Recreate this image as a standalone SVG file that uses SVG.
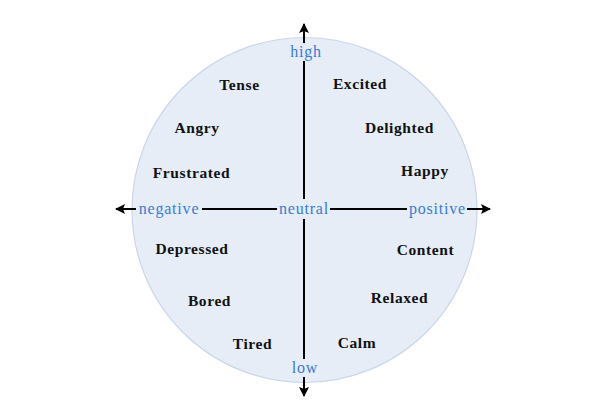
<svg xmlns="http://www.w3.org/2000/svg" width="605" height="412" viewBox="0 0 605 412">
<style>
.w{font-family:"Liberation Serif",serif;font-weight:bold;font-size:15.5px;letter-spacing:0.6px;fill:#111;text-anchor:middle}
.a{font-family:"Liberation Serif",serif;font-size:16px;letter-spacing:0.8px;fill:#3a7bd0;text-anchor:middle}
.ax{stroke:#000;stroke-width:2;fill:none}
</style>
<defs>
<marker id="ar" viewBox="0 0 10 10" refX="9" refY="5" markerWidth="5" markerHeight="5" orient="auto"><path d="M0,0 L10,5 L0,10 L2,5 z" fill="#000"/></marker>
</defs>
<rect width="605" height="412" fill="#fff"/>
<g id="circle"><circle cx="304.5" cy="210" r="172.5" fill="#e6edf7" stroke="#c9d6ea" stroke-width="1.2"/></g>
<g id="connectors">
<line class="ax" x1="304" y1="199" x2="304" y2="24" marker-end="url(#ar)"/>
<line class="ax" x1="304" y1="219" x2="304" y2="396" marker-end="url(#ar)"/>
<line class="ax" x1="278" y1="209" x2="116" y2="209" marker-end="url(#ar)"/>
<line class="ax" x1="330" y1="209" x2="490" y2="209" marker-end="url(#ar)"/>
</g>
<g id="axis-labels">
<rect x="287" y="43" width="37" height="18" fill="#e6edf7"/>
<text class="a" x="306" y="57">high</text>
<rect x="288" y="359" width="33" height="18" fill="#e6edf7"/>
<text class="a" x="305" y="373">low</text>
<rect x="136" y="201" width="66" height="18" fill="#e6edf7"/>
<text class="a" x="169" y="214">negative</text>
<rect x="407" y="201" width="60" height="18" fill="#e6edf7"/>
<text class="a" x="437.5" y="214">positive</text>
<rect x="277" y="201" width="53" height="18" fill="#e6edf7"/>
<text class="a" x="304" y="214">neutral</text>
</g>
<g id="tense"><text class="w" x="239.5" y="90">Tense</text></g>
<g id="excited"><text class="w" x="360" y="89">Excited</text></g>
<g id="angry"><text class="w" x="197" y="133">Angry</text></g>
<g id="delighted"><text class="w" x="399.5" y="133">Delighted</text></g>
<g id="frustrated"><text class="w" x="191.5" y="178">Frustrated</text></g>
<g id="happy"><text class="w" x="425" y="176">Happy</text></g>
<g id="depressed"><text class="w" x="192" y="254">Depressed</text></g>
<g id="content"><text class="w" x="425.5" y="255">Content</text></g>
<g id="bored"><text class="w" x="209.5" y="306">Bored</text></g>
<g id="relaxed"><text class="w" x="399.5" y="303">Relaxed</text></g>
<g id="tired"><text class="w" x="252.5" y="349">Tired</text></g>
<g id="calm"><text class="w" x="357" y="348">Calm</text></g>
</svg>
